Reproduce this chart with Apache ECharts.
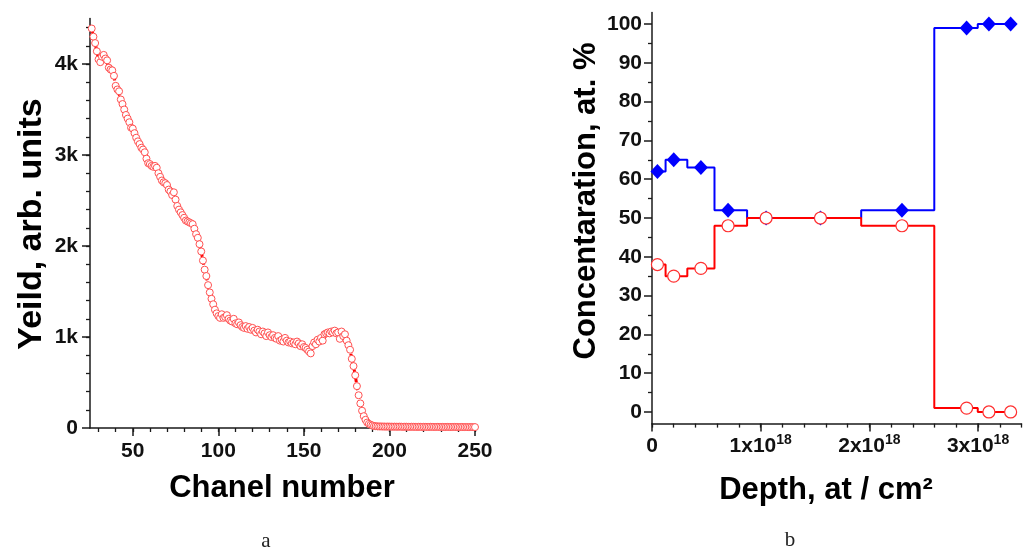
<!DOCTYPE html>
<html>
<head>
<meta charset="utf-8">
<title>RBS spectrum and depth profile</title>
<script src="https://cdn.jsdelivr.net/npm/echarts@6/dist/echarts.min.js"></script>
<style>
  html, body { margin: 0; padding: 0; background: #ffffff; }
  #chart { width: 1024px; height: 549px; }
</style>
</head>
<body>
<div id="chart"></div>
<script>
// ---- Panel a: backscattering spectrum (yield per channel) ----
var spectrumFirstChannel = 26;
var spectrumYield = [
  4390, 4300, 4230, 4140, 4050, 4020, 4080, 4100, 4060, 4040,
  3960, 3940, 3930, 3870, 3760, 3720, 3700, 3610, 3560, 3500,
  3440, 3400, 3360, 3300, 3290, 3240, 3190, 3150, 3120, 3080,
  3060, 3030, 2960, 2910, 2900, 2880, 2870, 2880, 2860, 2800,
  2760, 2720, 2700, 2690, 2670, 2620, 2600, 2560, 2590, 2510,
  2440, 2400, 2370, 2340, 2310, 2280, 2270, 2260, 2250, 2240,
  2190, 2130, 2090, 2020, 1940, 1840, 1740, 1670, 1570, 1490,
  1420, 1360, 1300, 1260, 1230, 1210, 1250, 1210, 1220, 1240,
  1200, 1180, 1170, 1200, 1150, 1140, 1160, 1130, 1110, 1100,
  1120, 1090, 1110, 1080, 1100, 1070, 1050, 1080, 1060, 1030,
  1060, 1040, 1010, 1050, 1020, 1000, 1020, 990, 980, 1010,
  960, 970, 950, 990, 960, 940, 950, 930, 940, 920,
  950, 930, 900, 920, 890, 880, 860, 840, 820, 900,
  940, 920, 970, 950, 990, 960, 1030, 1040, 1050, 1040,
  1060, 1050, 1070, 1040, 1050, 980, 1060, 1010, 1030, 960,
  910, 860, 760, 680, 580, 460, 360, 270, 190, 130,
  90, 60, 45, 35, 28, 22,
  20, 18, 17, 17, 16, 16, 15, 16, 15, 15,
  14, 15, 14, 14, 15, 14, 13, 14, 14, 13,
  13, 14, 13, 13, 12, 13, 13, 12, 13, 12,
  12, 12, 13, 12, 12, 11, 12, 12, 11, 12,
  11, 11, 12, 11, 11, 11, 12, 11, 11, 10,
  11, 11, 10, 11, 10, 10, 11, 10, 10
];
var channelTicks = [50, 100, 150, 200, 250];
var yieldTicks = [0, 1000, 2000, 3000, 4000];
var yieldTickLabels = ['0', '1k', '2k', '3k', '4k'];

// ---- Panel b: concentration depth profile ----
var depth = [0.05e18, 0.2e18, 0.45e18, 0.70e18, 1.05e18, 1.55e18, 2.30e18, 2.895e18, 3.10e18, 3.30e18];
var concBlue = [62, 65, 63, 52, 50, 50, 52, 99, 100, 100];
var concRed = [38, 35, 37, 48, 50, 50, 48, 1, 0, 0];
var depthTicks = [0, 1e18, 2e18, 3e18];
var depthTickLabels = ['0', '1x10', '2x10', '3x10'];
var concTicks = [0, 10, 20, 30, 40, 50, 60, 70, 80, 90, 100];

// minor tick positions between a start and an end with a given step
function steps(from, to, step) {
  var out = [];
  for (var k = 0; from + k * step <= to + step * 1e-6; k++) out.push(from + k * step);
  return out;
}

var FONT = '"Liberation Sans", Arial, sans-serif';
var AXIS_COLOR = '#1a1a1a';
var LABEL_COLOR = '#111111';
var TICK_FONT_SIZE = 21;

var spectrumData = spectrumYield.map(function (v, i) { return [spectrumFirstChannel + i, v]; });
var blueData = depth.map(function (d, i) { return [d, concBlue[i]]; });
var redData = depth.map(function (d, i) { return [d, concRed[i]]; });

function merge(base, extra) {
  for (var k in extra) {
    if (typeof extra[k] === 'object' && base[k] && !Array.isArray(extra[k])) {
      base[k] = Object.assign({}, base[k], extra[k]);
    } else {
      base[k] = extra[k];
    }
  }
  return base;
}

function majorAxis(extra) {
  return merge({
    type: 'value',
    splitLine: { show: false },
    axisLine: { show: true, onZero: false, lineStyle: { color: AXIS_COLOR, width: 1.5 } },
    axisTick: { show: true, inside: false, length: 8, lineStyle: { color: AXIS_COLOR, width: 1.5 } },
    axisLabel: { color: LABEL_COLOR, fontFamily: FONT, fontWeight: 'bold', fontSize: TICK_FONT_SIZE }
  }, extra);
}

function minorAxis(extra) {
  return merge({
    type: 'value',
    splitLine: { show: false },
    axisLine: { show: false, onZero: false },
    axisLabel: { show: false },
    axisTick: { show: true, inside: false, length: 4, lineStyle: { color: AXIS_COLOR, width: 1.3 } }
  }, extra);
}

var chart = echarts.init(document.getElementById('chart'), null, { renderer: 'canvas' });

chart.setOption({
  animation: false,
  backgroundColor: '#ffffff',
  grid: [
    { left: 90, right: 549, top: 18.5, bottom: 121, containLabel: false },
    { left: 652, right: 2.5, top: 12.4, bottom: 125.4, containLabel: false }
  ],
  xAxis: [
    majorAxis({
      gridIndex: 0, position: 'bottom', min: 25, max: 250,
      axisTick: { customValues: channelTicks },
      axisLabel: { customValues: channelTicks, margin: 13 }
    }),
    minorAxis({
      gridIndex: 0, position: 'bottom', min: 25, max: 250,
      axisTick: { customValues: steps(30, 250, 10) }
    }),
    majorAxis({
      gridIndex: 1, position: 'bottom', min: 0, max: 3.4e18,
      axisTick: { customValues: depthTicks },
      axisLabel: {
        customValues: depthTicks, margin: 10,
        formatter: function (v) {
          var i = depthTicks.indexOf(v);
          var txt = i >= 0 ? depthTickLabels[i] : '';
          return v === 0 ? '{b|' + txt + '}' : '{b|' + txt + '}{s|18}';
        },
        rich: {
          b: { fontFamily: FONT, fontWeight: 'bold', fontSize: TICK_FONT_SIZE, color: LABEL_COLOR, lineHeight: 26 },
          s: { fontFamily: FONT, fontWeight: 'bold', fontSize: 14, color: LABEL_COLOR, verticalAlign: 'top', lineHeight: 14 }
        }
      }
    }),
    minorAxis({
      gridIndex: 1, position: 'bottom', min: 0, max: 3.4e18,
      axisTick: { customValues: steps(0, 3.4e18, 0.2e18) }
    })
  ],
  yAxis: [
    majorAxis({
      gridIndex: 0, position: 'left', min: 0, max: 4500,
      axisTick: { customValues: yieldTicks },
      axisLabel: {
        customValues: yieldTicks, margin: 12,
        formatter: function (v) {
          var i = yieldTicks.indexOf(v);
          return i >= 0 ? yieldTickLabels[i] : '';
        }
      }
    }),
    minorAxis({
      gridIndex: 0, position: 'left', min: 0, max: 4500,
      axisTick: { customValues: steps(200, 4400, 200) }
    }),
    majorAxis({
      gridIndex: 1, position: 'left', min: -3, max: 103,
      axisTick: { customValues: concTicks },
      axisLabel: { customValues: concTicks, margin: 10 }
    }),
    minorAxis({
      gridIndex: 1, position: 'left', min: -3, max: 103,
      axisTick: { customValues: steps(5, 95, 10) }
    })
  ],
  series: [
    {
      name: 'Yield',
      type: 'line',
      xAxisIndex: 0, yAxisIndex: 0,
      data: spectrumData,
      symbol: 'circle',
      symbolSize: 7,
      itemStyle: { color: '#ffffff', borderColor: '#ff5050', borderWidth: 1 },
      lineStyle: { color: '#ff0000', width: 3, type: [5, 3] },
      emphasis: { disabled: true }
    },
    {
      name: 'Blue element',
      type: 'line',
      step: 'middle',
      xAxisIndex: 2, yAxisIndex: 2,
      data: blueData,
      symbol: 'diamond',
      symbolSize: [14, 15],
      itemStyle: { color: '#0000ff' },
      lineStyle: { color: '#0000ff', width: 2 },
      emphasis: { disabled: true }
    },
    {
      name: 'Red element',
      type: 'line',
      step: 'middle',
      xAxisIndex: 2, yAxisIndex: 2,
      data: redData,
      symbol: 'circle',
      symbolSize: 12,
      itemStyle: { color: '#ffffff', borderColor: '#ff3030', borderWidth: 1.2 },
      lineStyle: { color: '#ff0000', width: 2 },
      emphasis: { disabled: true }
    }
  ],
  graphic: [
    {
      type: 'text', x: 32, y: 224, rotation: Math.PI / 2,
      style: { text: 'Yeild, arb. units', font: 'bold 34px ' + FONT, fill: '#000', align: 'center', verticalAlign: 'middle' }
    },
    {
      type: 'text', x: 282, y: 488,
      style: { text: 'Chanel number', font: 'bold 31px ' + FONT, fill: '#000', align: 'center', verticalAlign: 'middle' }
    },
    {
      type: 'text', x: 586, y: 201, rotation: Math.PI / 2,
      style: { text: 'Concentaration, at. %', font: 'bold 31px ' + FONT, fill: '#000', align: 'center', verticalAlign: 'middle' }
    },
    {
      type: 'text', x: 826, y: 490,
      style: { text: 'Depth, at / cm\u00B2', font: 'bold 31px ' + FONT, fill: '#000', align: 'center', verticalAlign: 'middle' }
    },
    {
      type: 'text', x: 266, y: 541,
      style: { text: 'a', font: '21px "Liberation Serif", "Times New Roman", serif', fill: '#222', align: 'center', verticalAlign: 'middle' }
    },
    {
      type: 'text', x: 790, y: 540,
      style: { text: 'b', font: '21px "Liberation Serif", "Times New Roman", serif', fill: '#222', align: 'center', verticalAlign: 'middle' }
    }
  ]
});
</script>
</body>
</html>
